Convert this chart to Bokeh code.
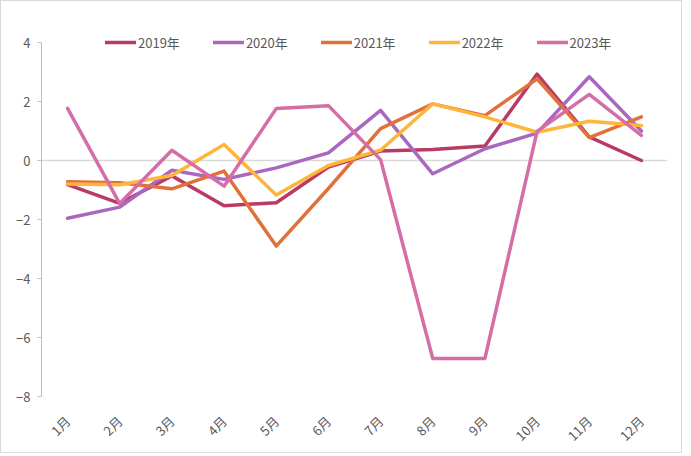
from bokeh.plotting import figure
from bokeh.models import Legend, LegendItem, Span, FixedTicker, FactorRange, Range1d
from bokeh.embed import file_html
from bokeh.resources import INLINE
import math

months = ["1月", "2月", "3月", "4月", "5月", "6月", "7月", "8月", "9月", "10月", "11月", "12月"]
series_names = ["2019年", "2020年", "2021年", "2022年", "2023年"]
y2019 = [-0.82, -1.45, -0.52, -1.53, -1.43, -0.22, 0.32, 0.37, 0.49, 2.93, 0.80, 0.00]
y2020 = [-1.96, -1.58, -0.33, -0.64, -0.25, 0.26, 1.70, -0.45, 0.40, 0.93, 2.84, 1.00]
y2021 = [-0.72, -0.75, -0.96, -0.36, -2.90, -0.95, 1.08, 1.92, 1.52, 2.77, 0.78, 1.48]
y2022 = [-0.80, -0.82, -0.51, 0.54, -1.17, -0.17, 0.35, 1.92, 1.48, 0.96, 1.33, 1.19]
y2023 = [1.77, -1.46, 0.35, -0.87, 1.76, 1.86, 0.03, -6.71, -6.71, 0.99, 2.24, 0.85]
colors = ["#B93A64", "#A967C0", "#E0713A", "#FDB63A", "#D46DA8"]
y_ticks = [-8, -6, -4, -2, 0, 2, 4]

FONT = "Noto Sans CJK SC"
GREY = "#595959"

p = figure(
    x_range=FactorRange(*months),
    y_range=Range1d(-8, 4.34),
    width=682, height=453,
    output_backend="svg", toolbar_location=None,
    min_border_left=40, min_border_right=16, min_border_top=31, min_border_bottom=58,
)
p.styles = {"border": "1px solid #D9D9D9", "box-sizing": "border-box"}
p.outline_line_color = None
p.xgrid.visible = False
p.ygrid.visible = False

zero = Span(location=0, dimension="width", line_color="#D9D9D9", line_width=1.5, level="underlay")
p.add_layout(zero)

items = []
for name, ys, c in zip(series_names, [y2019, y2020, y2021, y2022, y2023], colors):
    r = p.line(months, ys, line_color=c, line_width=3.5, line_join="round", line_cap="round")
    items.append(LegendItem(label=name, renderers=[r]))

legend = Legend(
    items=items, orientation="horizontal", location=(64, 344),
    glyph_width=31, glyph_height=20, label_standoff=2, spacing=33,
    padding=0, margin=0, border_line_color=None, background_fill_alpha=0,
    label_text_font=FONT, label_text_font_size="13px", label_text_color=GREY,
    label_height=20,
)
p.add_layout(legend)

# y axis
yax = p.yaxis[0]
yax.ticker = FixedTicker(ticks=y_ticks)
yax.bounds = (-8, 4)
yax.major_label_overrides = {t: (f"\u2212{abs(t)}" if t < 0 else str(t)) for t in y_ticks}
yax.axis_line_color = "#BFBFBF"
yax.major_tick_line_color = "#BFBFBF"
yax.major_tick_out = 4
yax.major_tick_in = 0
yax.minor_tick_line_color = None
yax.major_label_standoff = 7
yax.major_label_text_font = FONT
yax.major_label_text_font_size = "13px"
yax.major_label_text_color = GREY

# x axis
xax = p.xaxis[0]
xax.axis_line_color = None
xax.major_tick_line_color = None
xax.minor_tick_line_color = None
xax.major_label_orientation = math.pi / 4
xax.major_label_standoff = 16
xax.major_label_text_font = FONT
xax.major_label_text_font_size = "13px"
xax.major_label_text_color = GREY

open("out.html", "w").write(file_html(p, INLINE))
